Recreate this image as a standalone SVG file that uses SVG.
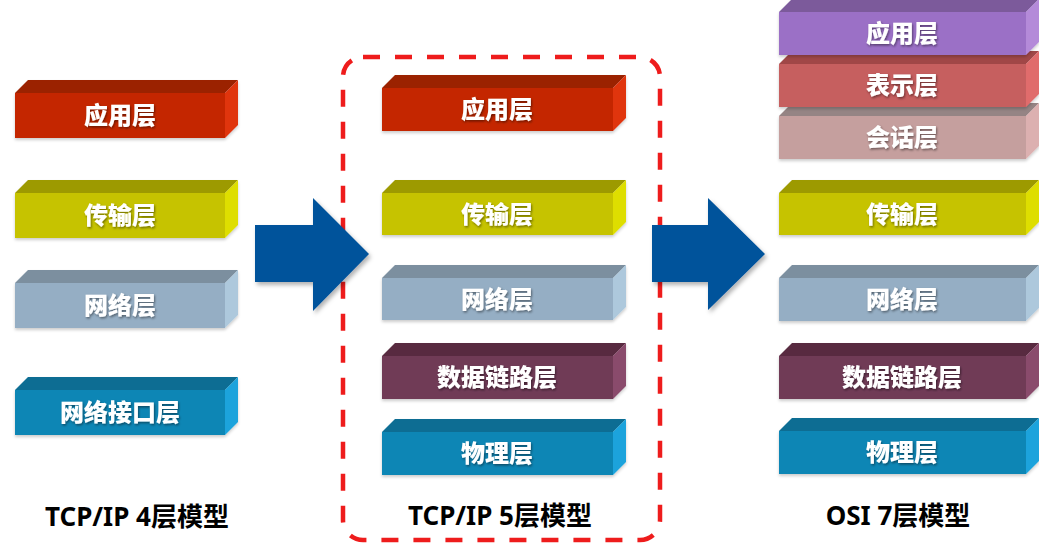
<svg xmlns="http://www.w3.org/2000/svg" width="1039" height="543" viewBox="0 0 1039 543">
<defs>
<style>
.lbl{font-family:"Noto Sans CJK SC","Noto Sans",sans-serif;font-weight:900;font-size:24px;fill:#fff;text-anchor:middle;filter:url(#ts)}
.ttl{font-family:"Noto Sans","Noto Sans CJK SC",sans-serif;font-weight:700;font-size:26px;fill:#000;text-anchor:middle}
.arrow{fill:#00529b;filter:url(#as)}
.box{filter:url(#bs)}
.red .f{fill:#c42800}.red .t{fill:#9b2200}.red .s{fill:#e03510}
.yel .f{fill:#c6c300}.yel .t{fill:#9d9a00}.yel .s{fill:#dede00}
.gry .f{fill:#95aec4}.gry .t{fill:#7b8f9f}.gry .s{fill:#adc8dc}
.mar .f{fill:#703b57}.mar .t{fill:#58293f}.mar .s{fill:#8a4b6c}
.tea .f{fill:#0c86b5}.tea .t{fill:#0a6d93}.tea .s{fill:#1aa3dc}
.pur .f{fill:#9b70c6}.pur .t{fill:#7b5a9b}.pur .s{fill:#b48ad9}
.rd2 .f{fill:#c65e5f}.rd2 .t{fill:#a04646}.rd2 .s{fill:#e06c6c}
.pnk .f{fill:#c59f9e}.pnk .t{fill:#958484}.pnk .s{fill:#dcb0b0}
</style>
<filter id="ts" x="-10%" y="-20%" width="120%" height="150%"><feDropShadow dx="1" dy="1.5" stdDeviation="1" flood-color="#000" flood-opacity="0.45"/></filter>
<filter id="bs" x="-5%" y="-10%" width="110%" height="130%"><feDropShadow dx="0" dy="2" stdDeviation="1.5" flood-color="#000" flood-opacity="0.2"/></filter>
<filter id="as" x="-10%" y="-10%" width="130%" height="130%"><feDropShadow dx="2" dy="3" stdDeviation="2" flood-color="#000" flood-opacity="0.3"/></filter>
</defs>
<rect width="1039" height="543" fill="#fff"/>

<!-- Left column: TCP/IP 4 -->
<g id="l-app" class="box red"><polygon class="t" points="15,93 28,80 238,80 225,93"/><polygon class="s" points="225,93 238,80 238,125 225,138"/><rect class="f" x="15" y="93" width="210" height="45"/><text class="lbl" x="120" y="124">应用层</text></g>
<g id="l-trans" class="box yel"><polygon class="t" points="15,193 28,180 238,180 225,193"/><polygon class="s" points="225,193 238,180 238,225 225,238"/><rect class="f" x="15" y="193" width="210" height="45"/><text class="lbl" x="120" y="224">传输层</text></g>
<g id="l-net" class="box gry"><polygon class="t" points="15,283 28,270 238,270 225,283"/><polygon class="s" points="225,283 238,270 238,315 225,328"/><rect class="f" x="15" y="283" width="210" height="45"/><text class="lbl" x="120" y="314">网络层</text></g>
<g id="l-if" class="box tea"><polygon class="t" points="15,390 28,377 238,377 225,390"/><polygon class="s" points="225,390 238,377 238,422 225,435"/><rect class="f" x="15" y="390" width="210" height="45"/><text class="lbl" x="120" y="421">网络接口层</text></g>
<text id="t-4" class="ttl" x="137" y="526">TCP/IP 4层模型</text>

<!-- Middle column: TCP/IP 5 -->
<rect id="frame" x="343" y="57" width="317" height="483" rx="20" fill="none" stroke="#ee1c1c" stroke-width="4.5" stroke-dasharray="17 15"/>
<g id="m-app" class="box red"><polygon class="t" points="382,88 395,75 626,75 613,88"/><polygon class="s" points="613,88 626,75 626,118 613,131"/><rect class="f" x="382" y="88" width="231" height="43"/><text class="lbl" x="497" y="118">应用层</text></g>
<g id="m-trans" class="box yel"><polygon class="t" points="382,193 395,180 626,180 613,193"/><polygon class="s" points="613,193 626,180 626,222 613,235"/><rect class="f" x="382" y="193" width="231" height="42"/><text class="lbl" x="497" y="223">传输层</text></g>
<g id="m-net" class="box gry"><polygon class="t" points="382,278 395,265 626,265 613,278"/><polygon class="s" points="613,278 626,265 626,307 613,320"/><rect class="f" x="382" y="278" width="231" height="42"/><text class="lbl" x="497" y="308">网络层</text></g>
<g id="m-link" class="box mar"><polygon class="t" points="382,356 395,343 626,343 613,356"/><polygon class="s" points="613,356 626,343 626,386 613,399"/><rect class="f" x="382" y="356" width="231" height="43"/><text class="lbl" x="497" y="386">数据链路层</text></g>
<g id="m-phy" class="box tea"><polygon class="t" points="382,432 395,419 626,419 613,432"/><polygon class="s" points="613,432 626,419 626,462 613,475"/><rect class="f" x="382" y="432" width="231" height="43"/><text class="lbl" x="497" y="462">物理层</text></g>
<text id="t-5" class="ttl" x="500" y="525">TCP/IP 5层模型</text>

<!-- Right column: OSI 7 -->
<g id="r-ses" class="box pnk"><polygon class="t" points="779,116 792,103 1039,103 1026,116"/><polygon class="s" points="1026,116 1039,103 1039,146 1026,159"/><rect class="f" x="779" y="116" width="247" height="43"/><text class="lbl" x="902" y="146">会话层</text></g>
<g id="r-pre" class="box rd2"><polygon class="t" points="779,64 792,51 1039,51 1026,64"/><polygon class="s" points="1026,64 1039,51 1039,94 1026,107"/><rect class="f" x="779" y="64" width="247" height="43"/><text class="lbl" x="902" y="94">表示层</text></g>
<g id="r-app" class="box pur"><polygon class="t" points="779,12 792,-1 1039,-1 1026,12"/><polygon class="s" points="1026,12 1039,-1 1039,42 1026,55"/><rect class="f" x="779" y="12" width="247" height="43"/><text class="lbl" x="902" y="42">应用层</text></g>
<g id="r-trans" class="box yel"><polygon class="t" points="779,193 792,180 1039,180 1026,193"/><polygon class="s" points="1026,193 1039,180 1039,222 1026,235"/><rect class="f" x="779" y="193" width="247" height="42"/><text class="lbl" x="902" y="223">传输层</text></g>
<g id="r-net" class="box gry"><polygon class="t" points="779,278 792,265 1039,265 1026,278"/><polygon class="s" points="1026,278 1039,265 1039,308 1026,321"/><rect class="f" x="779" y="278" width="247" height="43"/><text class="lbl" x="902" y="308">网络层</text></g>
<g id="r-link" class="box mar"><polygon class="t" points="779,356 792,343 1039,343 1026,356"/><polygon class="s" points="1026,356 1039,343 1039,386 1026,399"/><rect class="f" x="779" y="356" width="247" height="43"/><text class="lbl" x="902" y="386">数据链路层</text></g>
<g id="r-phy" class="box tea"><polygon class="t" points="779,431 792,418 1039,418 1026,431"/><polygon class="s" points="1026,431 1039,418 1039,461 1026,474"/><rect class="f" x="779" y="431" width="247" height="43"/><text class="lbl" x="902" y="461">物理层</text></g>
<text id="t-7" class="ttl" x="898" y="525">OSI 7层模型</text>

<!-- Connectors -->
<g id="connectors">
<polygon class="arrow" points="255,225 313,225 313,198 369,254 313,311 313,282 255,282"/>
<polygon class="arrow" points="652,225 708,225 708,198 765,254 708,310 708,282 652,282"/>
</g>
</svg>
